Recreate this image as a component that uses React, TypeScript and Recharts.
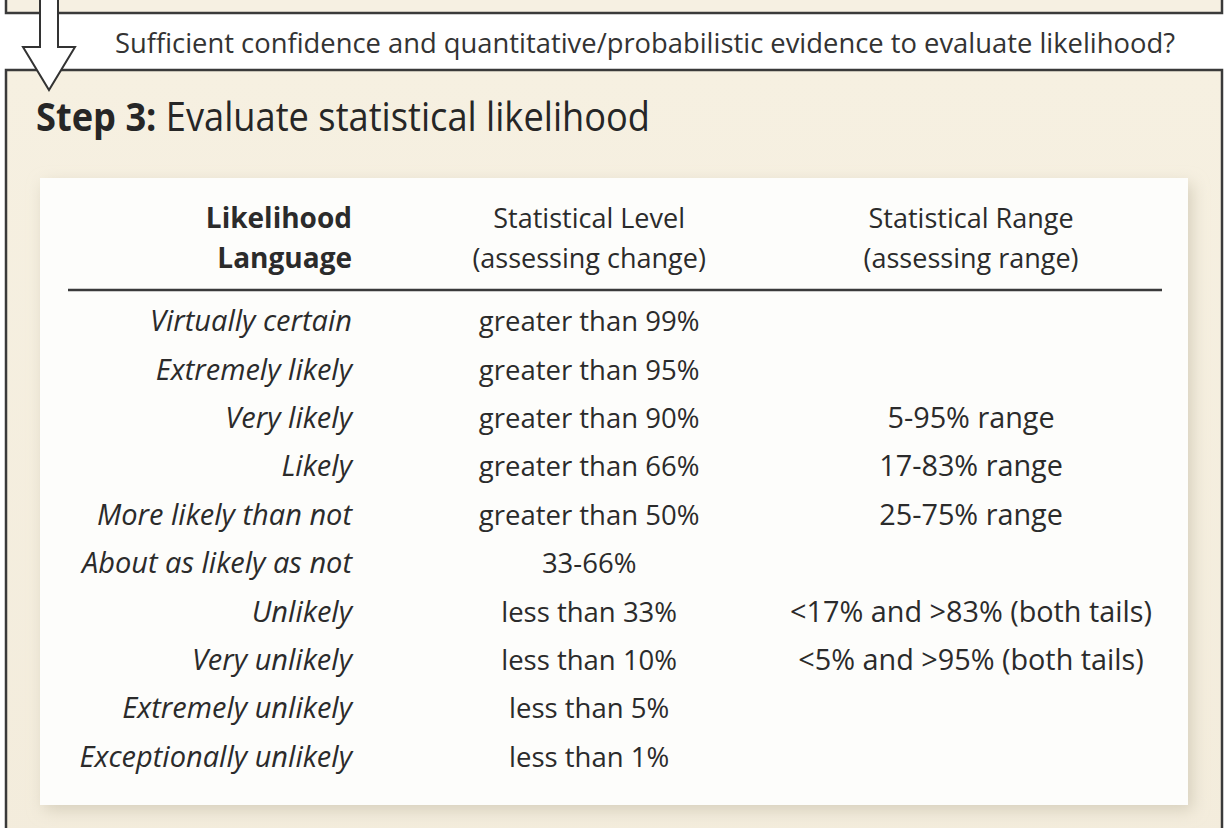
import React from 'react';
import { ScatterChart, Scatter, XAxis, YAxis } from 'recharts';

// table content
const terms = [
  'Virtually certain',
  'Extremely likely',
  'Very likely',
  'Likely',
  'More likely than not',
  'About as likely as not',
  'Unlikely',
  'Very unlikely',
  'Extremely unlikely',
  'Exceptionally unlikely',
];

const levels = [
  'greater than 99%',
  'greater than 95%',
  'greater than 90%',
  'greater than 66%',
  'greater than 50%',
  '33-66%',
  'less than 33%',
  'less than 10%',
  'less than 5%',
  'less than 1%',
];

const ranges = [
  '',
  '',
  '5-95% range',
  '17-83% range',
  '25-75% range',
  '',
  '<17% and >83% (both tails)',
  '<5% and >95% (both tails)',
  '',
  '',
];

const columnHeaders = [
  ['Statistical Level', '(assessing change)'],
  ['Statistical Range', '(assessing range)'],
];

const FONT = "'Open Sans', 'Noto Sans', sans-serif";
const INK = '#2b2b2b';
const W = 1229;
const H = 828;

// column 1 = level, column 2 = range
const levelData = terms.map((term, i) => ({ term, col: 1, text: levels[i] }));
const rangeData = terms
  .map((term, i) => ({ term, col: 2, text: ranges[i] }))
  .filter((d) => d.text !== '');

const CellText = (props: any) => {
  const { cx, cy, payload, size } = props;
  return (
    <text x={cx} y={cy + 10} textAnchor="middle" fontFamily={FONT} fontSize={size} fill={INK}>
      {payload.text}
    </text>
  );
};

const TermTick = (props: any) => {
  const { x, y, payload } = props;
  return (
    <text x={x} y={y + 10} textAnchor="end" fontFamily={FONT} fontSize={29} fontStyle="italic" fill={INK}>
      {payload.value}
    </text>
  );
};

const HeaderTick = (props: any) => {
  const { x, y, payload } = props;
  const lines = columnHeaders[payload.value - 1] || [];
  return (
    <text textAnchor="middle" fontFamily={FONT} fontSize={27} fill={INK}>
      <tspan x={x} y={y - 69}>{lines[0]}</tspan>
      <tspan x={x} y={y - 29}>{lines[1]}</tspan>
    </text>
  );
};

function Backdrop() {
  return (
    <svg width={W} height={H} style={{ position: 'absolute', left: 0, top: 0 }}>
      <defs>
        <filter id="soft" x="-5%" y="-5%" width="110%" height="110%">
          <feGaussianBlur stdDeviation="8" />
        </filter>
        <linearGradient id="cream" x1="0" y1="0" x2="0" y2="1">
          <stop offset="0" stopColor="#f6f0e1" />
          <stop offset="1" stopColor="#f3ecdc" />
        </linearGradient>
      </defs>
      <rect x={0} y={0} width={W} height={H} fill="#ffffff" />
      {/* end of previous step box */}
      <rect x={6} y={-10} width={1216} height={23} fill="#f6f0e2" stroke="#3a3a3a" strokeWidth={2.5} />
      {/* question line */}
      <text x={115} y={53} fontFamily={FONT} fontSize={27} fill="#333" textLength={1060} lengthAdjust="spacingAndGlyphs">
        Sufficient confidence and quantitative/probabilistic evidence to evaluate likelihood?
      </text>
      {/* step 3 box */}
      <rect x={6} y={70} width={1216} height={800} fill="url(#cream)" stroke="#3a3a3a" strokeWidth={2.5} />
      <text x={36} y={131} fontFamily={FONT} fontSize={40} fill="#262626" textLength={614} lengthAdjust="spacingAndGlyphs">
        <tspan fontWeight="bold">Step 3:</tspan>
        <tspan> Evaluate statistical likelihood</tspan>
      </text>
      {/* table panel */}
      <rect x={44} y={184} width={1148} height={626} fill="#d6cfbc" filter="url(#soft)" />
      <rect x={40} y={178} width={1148} height={627} fill="#fdfdfb" />
      <text textAnchor="end" fontFamily={FONT} fontSize={28} fontWeight="bold" fill={INK}>
        <tspan x={352} y={228}>Likelihood</tspan>
        <tspan x={352} y={268}>Language</tspan>
      </text>
      <line x1={68} x2={1162} y1={290} y2={290} stroke="#3a3a3a" strokeWidth={2.5} />
      {/* arrow into the box */}
      <polygon
        points="40,-4 58,-4 58,47 75,47 49,90 23,47 40,47"
        fill="#ffffff"
        stroke="#333"
        strokeWidth={2}
        strokeLinejoin="miter"
      />
    </svg>
  );
}

export default function App() {
  return (
    <div style={{ position: 'absolute', left: 0, top: 0, width: W, height: H, overflow: 'hidden' }}>
      <Backdrop />
      <div style={{ position: 'absolute', left: 0, top: 0 }}>
        <ScatterChart width={W} height={H} margin={{ top: 217, right: 67, bottom: 47, left: 0 }}>
          <XAxis
            type="number"
            dataKey="col"
            orientation="top"
            domain={[0.4, 2.5]}
            ticks={[1, 2]}
            height={80}
            axisLine={false}
            tickLine={false}
            tickSize={0}
            tickMargin={0}
            tick={<HeaderTick />}
          />
          <YAxis
            type="category"
            dataKey="term"
            allowDuplicatedCategory={false}
            reversed
            width={360}
            axisLine={false}
            tickLine={false}
            tickSize={0}
            tickMargin={8}
            interval={0}
            tick={<TermTick />}
          />
          <Scatter data={levelData} shape={<CellText size={27.5} />} isAnimationActive={false} />
          <Scatter data={rangeData} shape={<CellText size={28.8} />} isAnimationActive={false} />
        </ScatterChart>
      </div>
    </div>
  );
}
